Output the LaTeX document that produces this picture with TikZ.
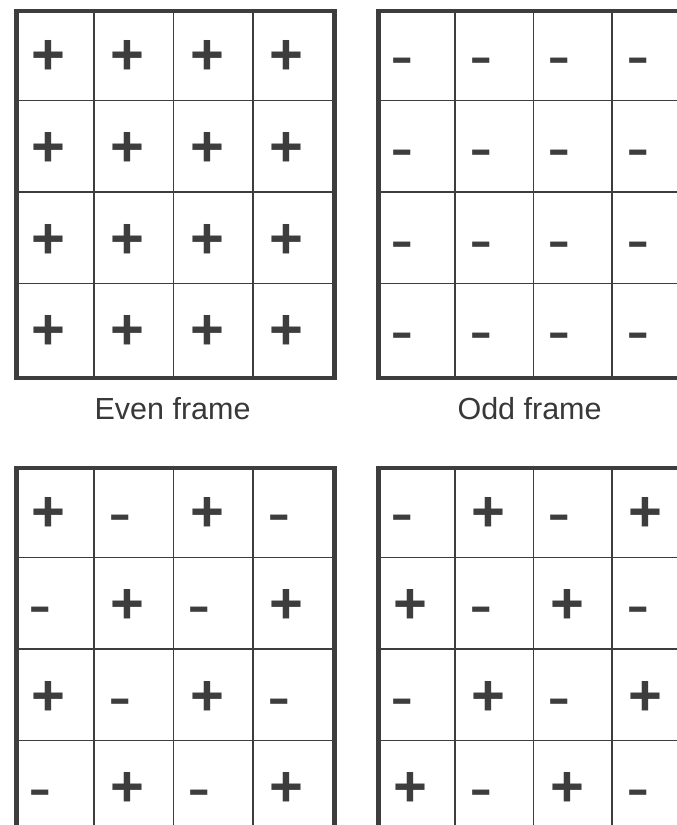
\documentclass[tikz,border=0pt]{standalone}
\usepackage{fontspec}
\setmainfont{Liberation Sans}
\newfontfamily\dashfont{DejaVu Sans}
\usetikzlibrary{positioning}

\begin{document}
\begin{tikzpicture}[
      x=1pt, y=-1pt,
      frame/.style   = {
        rectangle, draw=black!76, line width=4.6pt,
        anchor=north west, inner sep=0pt
      },
      cellline/.style = {draw=black!76, line width=1.4pt},
      signplus/.style = {
        anchor=base west, inner sep=0pt, text=black!76,
        font=\fontsize{58}{58}\bfseries\selectfont
      },
      signminus/.style = {
        anchor=base west, inner sep=0pt, text=black!76,
        font=\dashfont\fontsize{65}{65}\selectfont
      },
      caption/.style = {
        inner sep=0pt, text=black!78,
        font=\fontsize{30.5}{35}\selectfont
      },
    ]
    \useasboundingbox (0,0) rectangle (677,825);
    \fill[white] (0,0) rectangle (677,825);
    \foreach \gx/\gy/\cw/\nm/\mode in
        {14.3/8.5/79.5/even/0, 376.3/8.5/78.5/odd/1,
         14.3/465.5/79.5/evenalt/2, 376.3/465.5/78.5/oddalt/3} {
      \foreach \i in {1,2,3} {
        \draw[cellline] ({\gx+\i*\cw},\gy) -- ++(0,367);
        \draw[cellline] (\gx,{\gy+\i*91.75}) -- ++({4*\cw},0);
      }
      \node[frame, minimum width={4*\cw}, minimum height=367] (\nm) at (\gx,\gy) {};
      \foreach \r in {1,...,4}
        \foreach \c in {1,...,4} {
          \pgfmathtruncatemacro\isneg{\mode<2 ? \mode : mod(\r+\c+\mode,2)}
          \ifnum\isneg=1
            \node[signminus] (\nm-\r-\c)
              at ({\gx+(\c-1)*\cw+14},{\gy+(\r-1)*91.75+70}) {-};
          \else
            \node[signplus] (\nm-\r-\c)
              at ({\gx+(\c-1)*\cw+16.5},{\gy+(\r-1)*91.75+66}) {+};
          \fi
        }
    }
    \node[caption, below=17pt of even, xshift=-3pt] (evenlbl) {Even frame};
    \node[caption, below=17pt of odd, xshift=-6pt] (oddlbl) {Odd frame};
\end{tikzpicture}
\end{document}
